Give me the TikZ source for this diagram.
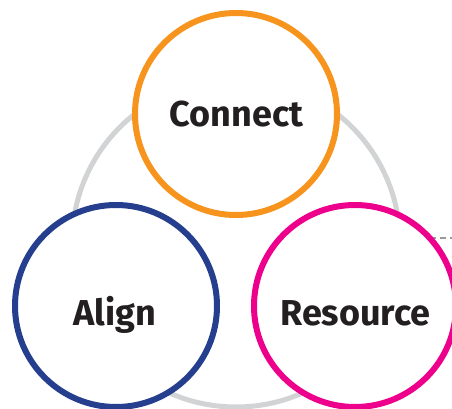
\documentclass[tikz,border=0pt]{standalone}
\usepackage{fontspec}
\setmainfont{Fira Sans}
\definecolor{ringgray}{HTML}{D1D3D4}
\definecolor{dashgray}{HTML}{9A9A9A}
\definecolor{corange}{HTML}{F7941D}
\definecolor{cnavy}{HTML}{253F8E}
\definecolor{cmagenta}{HTML}{EC008C}
\definecolor{ctext}{HTML}{231F20}
\tikzset{
  bigring/.style={circle, draw=ringgray, line width=5pt, minimum size=328pt, inner sep=0pt},
  pillar/.style={circle, draw=#1, fill=white, line width=6pt, minimum size=202pt, inner sep=0pt},
  pillartext/.style={anchor=base, text=ctext, font=\fontsize{36}{40}\selectfont\bfseries, inner sep=0pt},
  dashline/.style={draw=dashgray, line width=1.5pt, dash pattern=on 6pt off 4pt}
}
\begin{document}
\begin{tikzpicture}[x=1pt,y=-1pt]
\useasboundingbox (0,0) rectangle (452,409);
\node[bigring] (ring) at (236,243) {};
\coordinate (dashA) at (380,238);
\coordinate (dashB) at (455,238);
\draw[dashline] (dashA) -- (dashB);
\node[pillar=corange] (connect) at (236,114) {};
\node[pillar=cnavy] (align) at (116,306) {};
\node[pillar=cmagenta] (resource) at (355,306) {};
\node[pillartext] (tconnect) at (236.5,127) {Connect};
\node[pillartext] (talign) at (115,325) {Align};
\node[pillartext] (tresource) at (355.5,325) {Resource};
\end{tikzpicture}
\end{document}
